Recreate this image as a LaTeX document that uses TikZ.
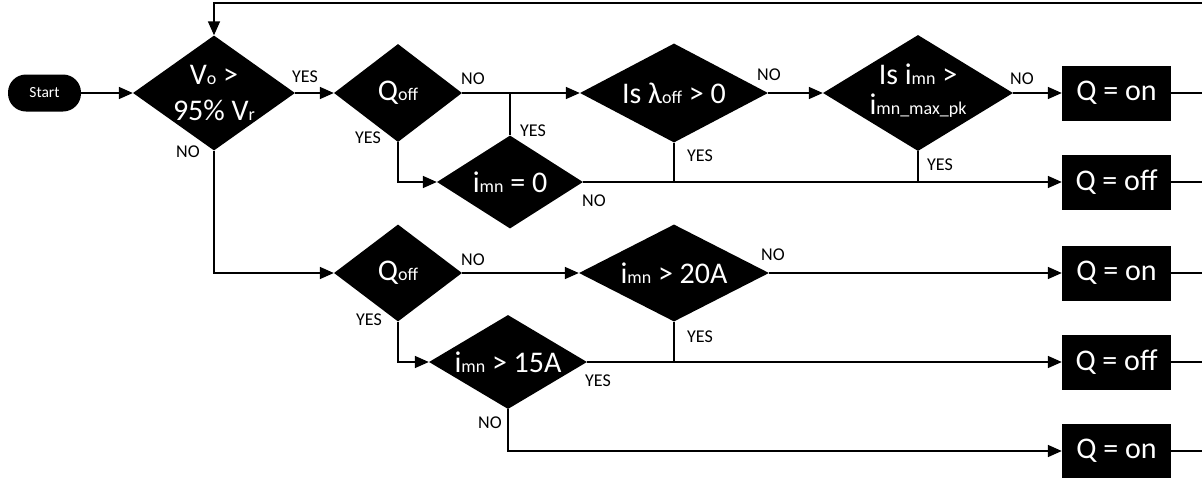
\documentclass[tikz,border=0pt]{standalone}
\usepackage{fontspec}
\setmainfont{Carlito}
\usetikzlibrary{shapes.geometric,arrows.meta}
\newcommand{\subt}[1]{{\fontsize{18}{18}\selectfont #1}}

\begin{document}
\begin{tikzpicture}[x=1pt,y=-1pt,
            dec/.style={diamond,fill=black,inner sep=0pt},
            res/.style={rectangle,fill=black,minimum width=109pt,minimum height=55pt,inner sep=0pt,text=white,font=\fontsize{30}{30}\selectfont},
            startbox/.style={rectangle,rounded corners=18pt,fill=black,minimum width=73pt,minimum height=37pt,inner sep=0pt,text=white,font=\fontsize{15.5}{15.5}\selectfont},
            txt/.style={text=white,align=center,inner sep=0pt,font=\fontsize{30}{36}\selectfont},
            lbl/.style={inner sep=0pt,font=\fontsize{18}{18}\selectfont},
            wire/.style={line width=1.6pt},
            flow/.style={wire,-{Triangle[length=14pt,width=12pt]}}]
            \useasboundingbox (0,0) rectangle (1202,477);

            \node[startbox] (start) at (44.5,93) {Start};

            \node[dec,minimum width=162pt,minimum height=115pt] (vo) at (214,93) {};
            \node[txt] (vo-t) at (214,93) {V\subt{o} >\\95\% V\subt{r}};
            \node[dec,minimum width=128pt,minimum height=98pt] (qoff) at (398,93) {};
            \node[txt] (qoff-t) at (398,93) {Q\subt{off}};
            \node[dec,minimum width=188pt,minimum height=99pt] (lam) at (674,93) {};
            \node[txt] (lam-t) at (674,93) {Is λ\subt{off} > 0};
            \node[dec,minimum width=146pt,minimum height=93pt] (izero) at (510,182) {};
            \node[txt] (izero-t) at (510,182) {i\subt{mn} = 0};
            \node[dec,minimum width=190pt,minimum height=116pt] (ipk) at (918,93) {};
            \node[txt,font=\fontsize{30}{30}\selectfont] (ipk-t) at (918,91) {Is i\subt{mn} >\\i\subt{mn\_max\_pk}};

            \node[dec,minimum width=128pt,minimum height=97pt] (qoff2) at (398,273) {};
            \node[txt] (qoff2-t) at (398,273) {Q\subt{off}};
            \node[dec,minimum width=190pt,minimum height=97pt] (ia) at (674,273) {};
            \node[txt] (ia-t) at (674,273) {i\subt{mn} > 20A};
            \node[dec,minimum width=158pt,minimum height=94pt] (ib) at (508,362) {};
            \node[txt] (ib-t) at (508,362) {i\subt{mn} > 15A};

            \node[res] (on1) at (1116.5,93) {Q = on};
            \node[res] (off1) at (1116.5,182) {Q = off};
            \node[res] (on2) at (1116.5,273) {Q = on};
            \node[res] (off2) at (1116.5,362) {Q = off};
            \node[res] (on3) at (1116.5,451) {Q = on};

            \coordinate (edge) at (1202,3);
            \coordinate (j1) at (izero.north |- qoff.east);

            \draw[flow] (start.east) -- (vo.west);
            \draw[flow] (vo.east) -- (qoff.west);
            \draw[flow] (qoff.east) -- (lam.west);
            \draw[flow] (lam.east) -- (ipk.west);
            \draw[flow] (ipk.east) -- (on1.west);
            \draw[wire] (j1) -- (izero.north);
            \draw[flow] (qoff.south) |- (izero.west);
            \draw[flow] (izero.east) -- (off1.west);
            \draw[wire] (lam.south) -- (lam.south |- izero.east);
            \draw[wire] (ipk.south) -- (ipk.south |- izero.east);
            \draw[flow] (vo.south) |- (qoff2.west);
            \draw[flow] (qoff2.east) -- (ia.west);
            \draw[flow] (ia.east) -- (on2.west);
            \draw[flow] (qoff2.south) |- (ib.west);
            \draw[wire] (ia.south) -- (ia.south |- ib.east);
            \draw[flow] (ib.east) -- (off2.west);
            \draw[flow] (ib.south) |- (on3.west);
            \foreach \b in {on1,off1,on2,off2,on3}
                \draw[wire] (\b.east) -- (\b.east -| edge);
            \draw[flow] (edge) -| (vo.north);

            \node[lbl] (y1) at (305,77) {YES};
            \node[lbl] (n1) at (188,152) {NO};
            \node[lbl] (n2) at (473,79) {NO};
            \node[lbl] (y2) at (368,138) {YES};
            \node[lbl] (y3) at (533,131) {YES};
            \node[lbl] (n3) at (769,75) {NO};
            \node[lbl] (y4) at (700,156) {YES};
            \node[lbl] (n4) at (1022,79) {NO};
            \node[lbl] (y5) at (940,165) {YES};
            \node[lbl] (n5) at (594,201) {NO};
            \node[lbl] (n6) at (473,260) {NO};
            \node[lbl] (n7) at (773,255) {NO};
            \node[lbl] (y6) at (369,320) {YES};
            \node[lbl] (y7) at (700,337) {YES};
            \node[lbl] (y8) at (598,381) {YES};
            \node[lbl] (n8) at (490,423) {NO};

        \end{tikzpicture}
\end{document}
